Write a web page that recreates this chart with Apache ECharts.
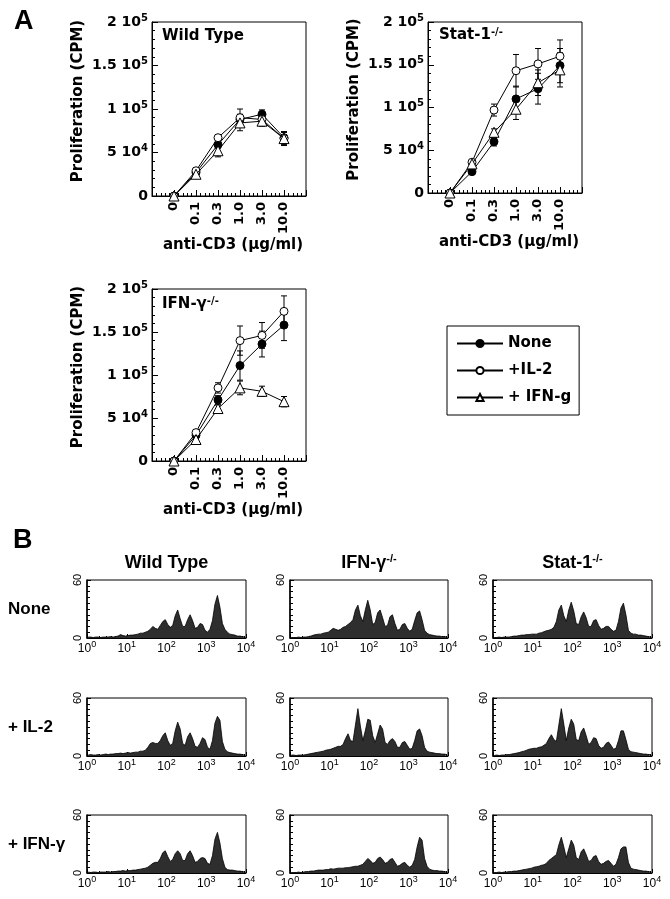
<!DOCTYPE html>
<html>
<head>
<meta charset="utf-8">
<script src="https://cdn.jsdelivr.net/npm/echarts@6/dist/echarts.min.js"></script>
<style>
  html, body { margin: 0; padding: 0; background: #fff; }
  #main { width: 670px; height: 899px; }
</style>
</head>
<body>
<div id="main"></div>
<script>
/*----------------------------- data -----------------------------*/
// panel A: anti-CD3 doses and proliferation (CPM), mean and error
var doses = ['0', '0.1', '0.3', '1.0', '3.0', '10.0'];
var groupNames = ['None', '+IL-2', '+ IFN-g'];

var wtNone   = [0, 27000, 59000, 88000, 94000, 67000];
var wtNoneE  = [0, 2000, 4000, 6000, 5000, 7000];
var wtIL2    = [0, 29000, 67000, 90000, 88000, 66000];
var wtIL2E   = [0, 2000, 3000, 10000, 5000, 7000];
var wtIFN    = [0, 25000, 52000, 84000, 86000, 66000];
var wtIFNE   = [0, 2000, 7000, 9000, 6000, 8000];

var stNone   = [0, 25000, 60000, 110000, 122000, 149000];
var stNoneE  = [0, 2000, 5000, 15000, 18000, 20000];
var stIL2    = [0, 36000, 97000, 143000, 151000, 160000];
var stIL2E   = [0, 2000, 7000, 19000, 18000, 19000];
var stIFN    = [0, 34000, 71000, 98000, 129000, 144000];
var stIFNE   = [0, 2000, 4000, 12000, 15000, 20000];

var ifNone   = [0, 30000, 71000, 111000, 136000, 158000];
var ifNoneE  = [0, 2000, 5000, 17000, 15000, 18000];
var ifIL2    = [0, 33000, 85000, 140000, 146000, 174000];
var ifIL2E   = [0, 2000, 6000, 17000, 15000, 18000];
var ifIFN    = [0, 25000, 61000, 85000, 81000, 69000];
var ifIFNE   = [0, 2000, 4000, 8000, 6000, 6000];

// y tick labels of panel A: mantissa and power of ten
var yTicks    = [0, 50000, 100000, 150000, 200000];
var yTickMant = ['0', '5', '1', '1.5', '2'];
var yTickExp  = ['', '4', '5', '5', '5'];

// panel B: CFSE histograms, 64 bins over 10^0..10^4 (16 bins per decade)
var wtNoneH = [1,1,0.5,1,1,0.5,1,1,1,1.5,1,1.5,2,3.5,2.5,2,
  2.5,3,3,3.5,4,5,5,6,7,9,12,10,9,13,17,19,
  14,11,13,23,29,20,12,12,19,24,18,10,11,15,14,8,
  6,9,18,35,44,32,15,9,6,4,3.5,3,2,2,1.5,1];
var wtIL2H = [1,1.5,1,1,1.5,1,1.5,2,1.5,2,2,2.5,2.5,3,2.5,3,
  3.5,3,3.5,4,4,5,5,6,9,13,14,13,13,16,21,24,
  16,11,13,26,35,28,13,11,20,24,18,10,9,13,19,17,
  9,7,16,34,41,37,15,7,4.5,3.5,3,2.5,2,2,1.5,1];
var wtIFNH = [1,0.5,1,1,0.5,1,1,1,1.5,1,1.5,1.5,2,2,2.5,2,
  2.5,2.5,3,3,3.5,4,4.5,5,6,8,10,11,11,15,21,23,
  17,12,14,20,23,20,13,13,20,23,18,11,12,15,16,15,
  10,9,18,35,42,31,15,6,3.5,3,3,2.5,2,2,1.5,1];

var koNoneH = [0.5,0.5,0.5,1,0.5,1,1,1.5,2,3,3.5,4,4,5,5.5,6,
  8,10,9,8,9,11,12,14,16,19,29,34,23,17,29,39,
  29,14,16,26,29,21,12,13,22,24,15,8,9,14,15,10,
  7,9,18,26,28,19,8,5,3.5,3,2.5,2,2,1.5,1.5,1];
var koIL2H = [1,1,0.5,1,1,1,1.5,2,2.5,3,3.5,4,4.5,5,6,6.5,
  7,8,9,10,10,12,18,23,16,15,32,49,31,16,26,38,
  37,21,14,23,32,28,14,12,16,18,15,9,9,14,15,11,
  7,8,16,26,28,21,9,5,4,3.5,3,2.5,2.5,2,2,1.5];
var koIFNH = [0.5,0.5,0.5,1,0.5,1,1.5,1.5,2,2,2.5,3,3,3,3.5,3.5,
  4.5,4,4.5,5,5,5,5.5,5.5,6,6.5,7,7,8,9,12,15,
  13,10,11,15,16.5,14,10,11,14,15,11,7,8,10,11,8,
  6,8,14,27,37,34,15,7,4,3,2.5,2.5,2,2,1.5,1];

var stNoneH = [0.5,0.5,1,0.5,1,1,1,1.5,2,2,2.5,3,3,3.5,3.5,4,
  4,4,5,5.5,6.5,7.5,8,9,11,17,29,34,23,17,29,37,
  28,15,14,22,27,21,12,12,18,19,13,9,10,12,12,9,
  7,8,17,31,36,24,8,5,4,4,3,3,2.5,2,1.5,1];
var stIL2H = [0.5,1,0.5,1,1,1.5,1.5,2,2.5,3,3.5,4.5,5,6,7,7.5,
  8,8,9,9.5,11,13,18,22,17,15,32,49,33,16,29,38,
  33,17,16,25,29,21,12,14,19,18,11,8,9,13,14.5,11,
  7,8,16,26,26,17,7,4.5,4,3.5,3,2.5,2,2,1.5,1.5];
var stIFNH = [0.5,0.5,1,0.5,1,1,1.5,1.5,2,2,2.5,3,3.5,4,4.5,5,
  6,6.5,7,8,8.5,10,13,15,17,19,29,37,27,16,25,34,
  29,16,14,22,25,19,12,13,17,18,12,9,10,12,13,10,
  7,9,16,25,27,27,11,5,4,3.5,3,2.5,2,2,1.5,1];

var colTitles = ['Wild Type', 'IFN-\u03b3{s|-/-}', 'Stat-1{s|-/-}'];
var rowTitles = ['None', '+ IL-2', '+ IFN-\u03b3'];
// rows: None, +IL-2, +IFN-g ; cols: WT, IFN-g-/-, Stat-1-/-
var hists = [
  [wtNoneH, koNoneH, stNoneH],
  [wtIL2H,  koIL2H,  stIL2H],
  [wtIFNH,  koIFNH,  stIFNH]
];

/*----------------------------- layout -----------------------------*/
var fontA = 'DejaVu Sans';
var fontB = 'Liberation Sans';

var panelsA = [
  { grid: {left: 152, top: 22, width: 154, height: 174}, title: 'Wild Type', tx: 162, ty: 29,
    lines: [[wtNone, wtNoneE], [wtIL2, wtIL2E], [wtIFN, wtIFNE]], nameGap: 36 },
  { grid: {left: 428, top: 22, width: 154, height: 171}, title: 'Stat-1{s|-/-}', tx: 439, ty: 27,
    lines: [[stNone, stNoneE], [stIL2, stIL2E], [stIFN, stIFNE]], nameGap: 38 },
  { grid: {left: 152, top: 289, width: 154, height: 172}, title: 'IFN-\u03b3{s|-/-}', tx: 162, ty: 296,
    lines: [[ifNone, ifNoneE], [ifIL2, ifIL2E], [ifIFN, ifIFNE]], nameGap: 33 }
];

var colLeft = [87, 290, 493];
var colWidth = [159, 158, 159];
var rowTop = [580, 698, 815];
var histH = 58;

var grids = [], xAxes = [], yAxes = [], series = [], graphics = [];

// marker styles for the three groups
var markStyle = [
  {symbol: 'circle', symbolSize: 8, itemStyle: {color: '#000', borderColor: '#000', borderWidth: 1}},
  {symbol: 'circle', symbolSize: 8, itemStyle: {color: '#fff', borderColor: '#000', borderWidth: 1}},
  {symbol: 'triangle', symbolSize: 10, itemStyle: {color: '#fff', borderColor: '#000', borderWidth: 1}}
];

// error bar drawing
function renderErr(params, api) {
  var x = api.value(0);
  var top = api.coord([x, api.value(2)]);
  var bot = api.coord([x, api.value(1)]);
  var w = 3;
  var st = {stroke: '#000', lineWidth: 1};
  return {
    type: 'group',
    children: [
      {type: 'line', shape: {x1: top[0], y1: top[1], x2: bot[0], y2: bot[1]}, style: st},
      {type: 'line', shape: {x1: top[0] - w, y1: top[1], x2: top[0] + w, y2: top[1]}, style: st},
      {type: 'line', shape: {x1: bot[0] - w, y1: bot[1], x2: bot[0] + w, y2: bot[1]}, style: st}
    ]
  };
}

/*----------------------------- panel A -----------------------------*/
panelsA.forEach(function (p, k) {
  grids.push(Object.assign({show: true, borderColor: '#000', borderWidth: 1, backgroundColor: 'transparent'}, p.grid));
  xAxes.push({
    gridIndex: k, type: 'value', min: 0, max: 7, interval: 1,
    axisLine: {lineStyle: {color: '#000', width: 1}},
    axisTick: {inside: true, length: 6, lineStyle: {color: '#000'}},
    minorTick: {show: true, splitNumber: 5, length: 3, lineStyle: {color: '#000'}},
    splitLine: {show: false},
    axisLabel: {
      rotate: 90, margin: 6, color: '#000', fontFamily: fontA, fontWeight: 'bold', fontSize: 13,
      formatter: function (v) { return (v >= 1 && v <= doses.length) ? doses[v - 1] : ''; }
    },
    name: 'anti-CD3 (\u00b5g/ml)', nameLocation: 'middle', nameGap: p.nameGap,
    nameTextStyle: {color: '#000', fontFamily: fontA, fontWeight: 'bold', fontSize: 15, padding: [0, 0, 0, 8]}
  });
  yAxes.push({
    gridIndex: k, type: 'value', min: 0, max: 200000, interval: 50000,
    axisLine: {lineStyle: {color: '#000', width: 1}},
    axisTick: {inside: true, length: 6, lineStyle: {color: '#000'}},
    minorTick: {show: true, splitNumber: 5, length: 3, lineStyle: {color: '#000'}},
    splitLine: {show: false},
    axisLabel: {
      color: '#000', fontFamily: fontA, fontWeight: 'bold', fontSize: 14, margin: 4,
      formatter: function (v) {
        var i = yTicks.indexOf(v);
        if (i < 0) return '';
        return yTickExp[i] ? yTickMant[i] + ' 10{s|' + yTickExp[i] + '}' : yTickMant[i];
      },
      rich: {s: {fontSize: 10, fontWeight: 'bold', fontFamily: fontA, padding: [0, 0, 8, 0], color: '#000'}}
    },
    name: 'Proliferation (CPM)', nameLocation: 'middle', nameGap: 66, nameRotate: 90,
    nameTextStyle: {color: '#000', fontFamily: fontA, fontWeight: 'bold', fontSize: 15, padding: [0, 0, 0, 16]}
  });

  p.lines.forEach(function (ln, g) {
    var pts = [], bars = [];
    for (var i = 0; i < ln[0].length; i++) {
      pts.push([i + 1, ln[0][i]]);
      bars.push([i + 1, ln[0][i] - ln[1][i], ln[0][i] + ln[1][i]]);
    }
    series.push({
      type: 'custom', name: 'err', xAxisIndex: k, yAxisIndex: k, z: 1, silent: true,
      renderItem: renderErr, encode: {x: 0, y: [1, 2]}, data: bars
    });
    series.push(Object.assign({
      type: 'line', name: groupNames[g], xAxisIndex: k, yAxisIndex: k, z: 3 + g,
      lineStyle: {color: '#000', width: 1}, data: pts
    }, markStyle[g]));
  });

  graphics.push({
    type: 'text', x: p.tx, y: p.ty,
    style: {text: p.title, fill: '#000', fontFamily: fontA, fontWeight: 'bold', fontSize: 15,
      rich: {s: {fontSize: 10, fontWeight: 'bold', fontFamily: fontA, padding: [0, 0, 7, 0], fill: '#000'}}}
  });
});

/*----------------------------- panel B -----------------------------*/
var binCenters = [];
for (var b = 0; b < 64; b++) binCenters.push(Math.pow(10, (b + 0.5) / 16));

for (var r = 0; r < 3; r++) {
  for (var c = 0; c < 3; c++) {
    var gi = grids.length;
    grids.push({show: true, borderColor: '#000', borderWidth: 1, backgroundColor: 'transparent',
      left: colLeft[c], top: rowTop[r], width: colWidth[c], height: histH});
    xAxes.push({
      gridIndex: gi, type: 'log', logBase: 10, min: 1, max: 10000,
      axisLine: {lineStyle: {color: '#000', width: 1}},
      axisTick: {inside: true, length: 4, lineStyle: {color: '#000'}},
      minorTick: {show: true, splitNumber: 9, length: 2, lineStyle: {color: '#000'}},
      splitLine: {show: false},
      axisLabel: {
        color: '#000', fontFamily: fontB, fontSize: 12, margin: 2,
        formatter: function (v) { return '10{s|' + Math.round(Math.log(v) / Math.LN10) + '}'; },
        rich: {s: {fontSize: 9, fontFamily: fontB, padding: [0, 0, 8, 0], color: '#000'}}
      }
    });
    yAxes.push({
      gridIndex: gi, type: 'value', min: 0, max: 60, interval: 60,
      axisLine: {lineStyle: {color: '#000', width: 1.5}},
      axisTick: {inside: true, length: 4, lineStyle: {color: '#000'}},
      minorTick: {show: true, splitNumber: 10, length: 3, lineStyle: {color: '#000'}},
      splitLine: {show: false},
      axisLabel: {rotate: 90, color: '#000', fontFamily: fontB, fontSize: 11, margin: 4}
    });
    var hd = [];
    for (var j = 0; j < hists[r][c].length; j++) hd.push([binCenters[j], hists[r][c][j]]);
    series.push({
      type: 'line', name: 'hist', xAxisIndex: gi, yAxisIndex: gi, symbol: 'none', silent: true,
      lineStyle: {color: '#000', width: 0.8}, areaStyle: {color: '#2e2e2e', opacity: 1}, data: hd
    });
  }
}

// column and row titles of panel B
colTitles.forEach(function (t, c) {
  graphics.push({
    type: 'text', x: colLeft[c] + colWidth[c] / 2, y: 563,
    style: {text: t, fill: '#000', fontFamily: fontB, fontWeight: 'bold', fontSize: 18, align: 'center', verticalAlign: 'middle',
      rich: {s: {fontSize: 11, fontWeight: 'bold', fontFamily: fontB, padding: [0, 0, 9, 0], fill: '#000'}}}
  });
});
rowTitles.forEach(function (t, r) {
  graphics.push({
    type: 'text', x: 8, y: rowTop[r] + histH / 2,
    style: {text: t, fill: '#000', fontFamily: fontB, fontWeight: 'bold', fontSize: 17, verticalAlign: 'middle'}
  });
});
// panel letters
graphics.push({type: 'text', x: 14, y: 8, style: {text: 'A', fill: '#000', fontFamily: fontB, fontWeight: 'bold', fontSize: 27}});
graphics.push({type: 'text', x: 13, y: 527, style: {text: 'B', fill: '#000', fontFamily: fontB, fontWeight: 'bold', fontSize: 27}});

/*----------------------------- chart -----------------------------*/
var myChart = echarts.init(document.getElementById('main'));
var option = {
  backgroundColor: '#fff',
  animation: false,
  grid: grids,
  xAxis: xAxes,
  yAxis: yAxes,
  legend: {
    data: groupNames, orient: 'vertical', left: 447, top: 326,
    borderColor: '#000', borderWidth: 1, borderRadius: 0, backgroundColor: '#fff',
    padding: [10, 8, 10, 9], itemGap: 12, itemWidth: 46, itemHeight: 9,
    textStyle: {color: '#000', fontFamily: fontA, fontWeight: 'bold', fontSize: 15}
  },
  graphic: graphics,
  series: series
};
myChart.setOption(option);
</script>
</body>
</html>
